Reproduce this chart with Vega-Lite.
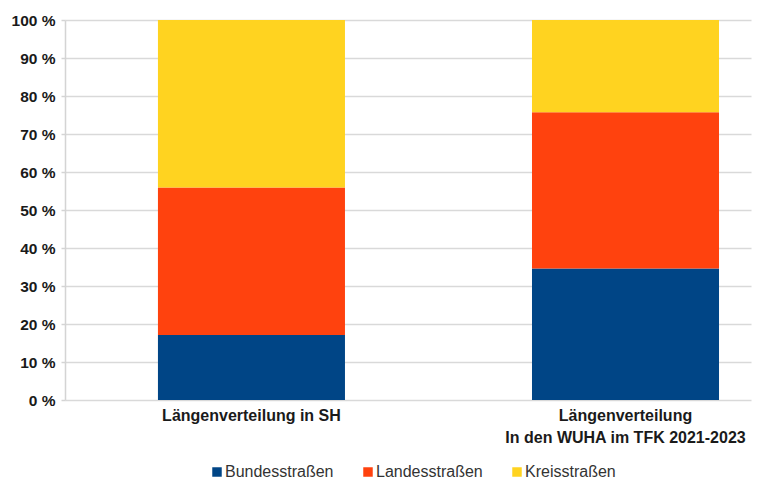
{
  "$schema": "https://vega.github.io/schema/vega-lite/v6.json",
  "autosize": "none",
  "width": 686,
  "height": 380,
  "padding": {"left": 65, "top": 20, "right": 11, "bottom": 80},
  "background": "white",
  "config": {
    "font": "Liberation Sans",
    "view": {"stroke": null}
  },
  "data": {
    "values": [
      {"kategorie": "Längenverteilung in SH", "strasse": "Bundesstraßen", "ord": 1, "anteil": 17.1},
      {"kategorie": "Längenverteilung in SH", "strasse": "Landesstraßen", "ord": 2, "anteil": 38.8},
      {"kategorie": "Längenverteilung in SH", "strasse": "Kreisstraßen", "ord": 3, "anteil": 44.1},
      {"kategorie": "Längenverteilung|In den WUHA im TFK 2021-2023", "strasse": "Bundesstraßen", "ord": 1, "anteil": 34.6},
      {"kategorie": "Längenverteilung|In den WUHA im TFK 2021-2023", "strasse": "Landesstraßen", "ord": 2, "anteil": 41.1},
      {"kategorie": "Längenverteilung|In den WUHA im TFK 2021-2023", "strasse": "Kreisstraßen", "ord": 3, "anteil": 24.3}
    ]
  },
  "mark": {"type": "bar"},
  "encoding": {
    "x": {
      "field": "kategorie",
      "type": "nominal",
      "sort": null,
      "scale": {"paddingInner": 0.5, "paddingOuter": 0.167, "align": 0.744},
      "axis": {
        "title": null,
        "labelAngle": 0,
        "labelExpr": "split(datum.label, '|')",
        "labelFont": "Liberation Sans",
        "labelFontSize": 16,
        "labelFontWeight": "bold",
        "labelColor": "#1a1a1a",
        "labelPadding": 7,
        "labelLineHeight": 22,
        "labelLimit": 0,
        "ticks": false,
        "domain": false,
        "grid": false
      }
    },
    "y": {
      "field": "anteil",
      "type": "quantitative",
      "stack": "zero",
      "scale": {"domain": [0, 100], "nice": false},
      "axis": {
        "title": null,
        "values": [0, 10, 20, 30, 40, 50, 60, 70, 80, 90, 100],
        "labelExpr": "datum.value + ' %'",
        "labelFont": "Liberation Sans",
        "labelFontSize": 15.5,
        "labelFontWeight": "bold",
        "labelColor": "#1a1a1a",
        "labelPadding": 6,
        "tickSize": 4,
        "tickColor": "#d4d4d4",
        "tickWidth": 1.5,
        "domainColor": "#d4d4d4",
        "domainWidth": 1.5,
        "gridColor": "#d9d9d9",
        "gridWidth": 1.5
      }
    },
    "color": {
      "field": "strasse",
      "type": "nominal",
      "scale": {
        "domain": ["Bundesstraßen", "Landesstraßen", "Kreisstraßen"],
        "range": ["#004586", "#ff420e", "#ffd320"]
      },
      "legend": {
        "title": null,
        "orient": "none",
        "direction": "horizontal",
        "legendX": 144,
        "legendY": 444,
        "symbolType": "square",
        "symbolSize": 90,
        "symbolStrokeWidth": 0,
        "symbolOffset": 0,
        "labelOffset": 0,
        "labelFont": "Liberation Sans",
        "labelFontSize": 16,
        "labelColor": "#333333",
        "columnPadding": 26
      }
    },
    "order": {"field": "ord", "type": "quantitative"}
  }
}
